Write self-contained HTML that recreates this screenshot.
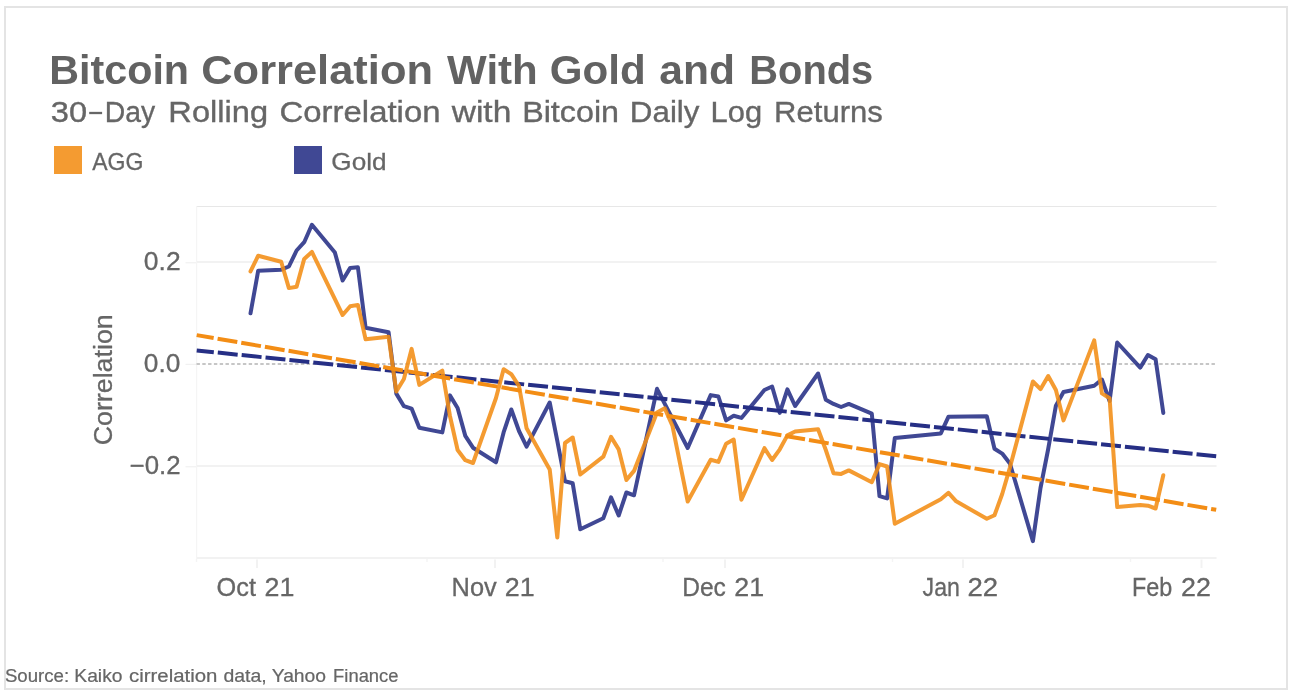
<!DOCTYPE html>
<html><head><meta charset="utf-8"><title>Bitcoin Correlation With Gold and Bonds</title>
<style>
html,body{margin:0;padding:0;background:#fff;}
body{width:1294px;height:696px;overflow:hidden;font-family:"Liberation Sans",sans-serif;}
svg{display:block;will-change:transform;}
text{font-family:"Liberation Sans",sans-serif;}
</style></head><body>
<svg width="1294" height="696" viewBox="0 0 1294 696">
<rect x="0" y="0" width="1294" height="696" fill="#ffffff"/>
<!-- outer frame -->
<rect x="5" y="7" width="1282" height="682" fill="none" stroke="#e4e4e4" stroke-width="2"/>

<!-- title -->
<text x="49.24" y="83.7" font-size="40.9" font-weight="bold" fill="#626262" stroke="#626262" stroke-width="0.0" textLength="139.86" lengthAdjust="spacingAndGlyphs">Bitcoin</text>
<text x="201.21" y="83.7" font-size="40.9" font-weight="bold" fill="#626262" stroke="#626262" stroke-width="0.0" textLength="231.79" lengthAdjust="spacingAndGlyphs">Correlation</text>
<text x="447.10" y="83.7" font-size="40.9" font-weight="bold" fill="#626262" stroke="#626262" stroke-width="0.0" textLength="90.68" lengthAdjust="spacingAndGlyphs">With</text>
<text x="549.82" y="83.7" font-size="40.9" font-weight="bold" fill="#626262" stroke="#626262" stroke-width="0.0" textLength="95.96" lengthAdjust="spacingAndGlyphs">Gold</text>
<text x="659.39" y="83.7" font-size="40.9" font-weight="bold" fill="#626262" stroke="#626262" stroke-width="0.0" textLength="75.72" lengthAdjust="spacingAndGlyphs">and</text>
<text x="749.31" y="83.7" font-size="40.9" font-weight="bold" fill="#626262" stroke="#626262" stroke-width="0.0" textLength="123.95" lengthAdjust="spacingAndGlyphs">Bonds</text>
<text x="50.84" y="121.7" font-size="30.2" font-weight="normal" fill="#666666" stroke="#666666" stroke-width="0.36" textLength="36.31" lengthAdjust="spacingAndGlyphs">30</text>
<text x="104.73" y="121.7" font-size="30.2" font-weight="normal" fill="#666666" stroke="#666666" stroke-width="0.36" textLength="50.32" lengthAdjust="spacingAndGlyphs">Day</text>
<text x="168.38" y="121.7" font-size="30.2" font-weight="normal" fill="#666666" stroke="#666666" stroke-width="0.36" textLength="99.72" lengthAdjust="spacingAndGlyphs">Rolling</text>
<text x="279.56" y="121.7" font-size="30.2" font-weight="normal" fill="#666666" stroke="#666666" stroke-width="0.36" textLength="160.99" lengthAdjust="spacingAndGlyphs">Correlation</text>
<text x="451.70" y="121.7" font-size="30.2" font-weight="normal" fill="#666666" stroke="#666666" stroke-width="0.36" textLength="59.58" lengthAdjust="spacingAndGlyphs">with</text>
<text x="522.17" y="121.7" font-size="30.2" font-weight="normal" fill="#666666" stroke="#666666" stroke-width="0.36" textLength="96.93" lengthAdjust="spacingAndGlyphs">Bitcoin</text>
<text x="629.89" y="121.7" font-size="30.2" font-weight="normal" fill="#666666" stroke="#666666" stroke-width="0.36" textLength="69.57" lengthAdjust="spacingAndGlyphs">Daily</text>
<text x="710.61" y="121.7" font-size="30.2" font-weight="normal" fill="#666666" stroke="#666666" stroke-width="0.36" textLength="51.56" lengthAdjust="spacingAndGlyphs">Log</text>
<text x="774.11" y="121.7" font-size="30.2" font-weight="normal" fill="#666666" stroke="#666666" stroke-width="0.36" textLength="108.63" lengthAdjust="spacingAndGlyphs">Returns</text>
<text x="92.20" y="169.7" font-size="24.5" font-weight="normal" fill="#666666" stroke="#666666" stroke-width="0.29" textLength="51.21" lengthAdjust="spacingAndGlyphs">AGG</text>
<text x="331.38" y="169.7" font-size="24.5" font-weight="normal" fill="#666666" stroke="#666666" stroke-width="0.29" textLength="55.22" lengthAdjust="spacingAndGlyphs">Gold</text>
<text x="143.84" y="270" font-size="25" font-weight="normal" fill="#666666" stroke="#666666" stroke-width="0.3" textLength="36.80" lengthAdjust="spacingAndGlyphs">0.2</text>
<text x="143.85" y="372" font-size="25" font-weight="normal" fill="#666666" stroke="#666666" stroke-width="0.3" textLength="36.52" lengthAdjust="spacingAndGlyphs">0.0</text>
<text x="129.68" y="474" font-size="25" font-weight="normal" fill="#666666" stroke="#666666" stroke-width="0.3" textLength="50.94" lengthAdjust="spacingAndGlyphs">−0.2</text>
<text x="216.60" y="596.3" font-size="25" font-weight="normal" fill="#666666" stroke="#666666" stroke-width="0.3" textLength="39.35" lengthAdjust="spacingAndGlyphs">Oct</text>
<text x="264.54" y="596.3" font-size="25" font-weight="normal" fill="#666666" stroke="#666666" stroke-width="0.3" textLength="29.84" lengthAdjust="spacingAndGlyphs">21</text>
<text x="451.59" y="596.3" font-size="25" font-weight="normal" fill="#666666" stroke="#666666" stroke-width="0.3" textLength="45.18" lengthAdjust="spacingAndGlyphs">Nov</text>
<text x="504.82" y="596.3" font-size="25" font-weight="normal" fill="#666666" stroke="#666666" stroke-width="0.3" textLength="29.87" lengthAdjust="spacingAndGlyphs">21</text>
<text x="682.27" y="596.3" font-size="25" font-weight="normal" fill="#666666" stroke="#666666" stroke-width="0.3" textLength="43.63" lengthAdjust="spacingAndGlyphs">Dec</text>
<text x="734.23" y="596.3" font-size="25" font-weight="normal" fill="#666666" stroke="#666666" stroke-width="0.3" textLength="29.84" lengthAdjust="spacingAndGlyphs">21</text>
<text x="922.57" y="596.3" font-size="25" font-weight="normal" fill="#666666" stroke="#666666" stroke-width="0.3" textLength="37.32" lengthAdjust="spacingAndGlyphs">Jan</text>
<text x="967.43" y="596.3" font-size="25" font-weight="normal" fill="#666666" stroke="#666666" stroke-width="0.3" textLength="30.64" lengthAdjust="spacingAndGlyphs">22</text>
<text x="1131.91" y="596.3" font-size="25" font-weight="normal" fill="#666666" stroke="#666666" stroke-width="0.3" textLength="40.25" lengthAdjust="spacingAndGlyphs">Feb</text>
<text x="1181.04" y="596.3" font-size="25" font-weight="normal" fill="#666666" stroke="#666666" stroke-width="0.3" textLength="29.84" lengthAdjust="spacingAndGlyphs">22</text>
<text x="4.92" y="681.9" font-size="18.3" font-weight="normal" fill="#666666" stroke="#666666" stroke-width="0.22" textLength="64.20" lengthAdjust="spacingAndGlyphs">Source:</text>
<text x="74.32" y="681.9" font-size="18.3" font-weight="normal" fill="#666666" stroke="#666666" stroke-width="0.22" textLength="48.17" lengthAdjust="spacingAndGlyphs">Kaiko</text>
<text x="129.03" y="681.9" font-size="18.3" font-weight="normal" fill="#666666" stroke="#666666" stroke-width="0.22" textLength="88.45" lengthAdjust="spacingAndGlyphs">cirrelation</text>
<text x="223.50" y="681.9" font-size="18.3" font-weight="normal" fill="#666666" stroke="#666666" stroke-width="0.22" textLength="43.25" lengthAdjust="spacingAndGlyphs">data,</text>
<text x="271.69" y="681.9" font-size="18.3" font-weight="normal" fill="#666666" stroke="#666666" stroke-width="0.22" textLength="54.38" lengthAdjust="spacingAndGlyphs">Yahoo</text>
<text x="333.14" y="681.9" font-size="18.3" font-weight="normal" fill="#666666" stroke="#666666" stroke-width="0.22" textLength="65.34" lengthAdjust="spacingAndGlyphs">Finance</text>
<!-- dash rect --><rect x="89.2" y="111.85" width="12.9" height="2.3" fill="#666666"/>
<!-- legend -->
<rect x="54" y="146" width="28" height="28" fill="#f38d15" fill-opacity="0.88"/>
<rect x="294" y="146" width="28" height="28" fill="#262f85" fill-opacity="0.88"/>

<!-- grid -->
<g fill="none">
<line x1="196.5" y1="206.5" x2="1216.5" y2="206.5" stroke="#e7e7e7" stroke-width="1.2"/>
<line x1="196.5" y1="262" x2="1216.5" y2="262" stroke="#f2f2f2" stroke-width="2"/>
<line x1="196.5" y1="466" x2="1216.5" y2="466" stroke="#f2f2f2" stroke-width="2"/>
<line x1="196.5" y1="558" x2="1216.5" y2="558" stroke="#f2f2f2" stroke-width="2"/>
<line x1="196.6" y1="206" x2="196.6" y2="559" stroke="#f5f5f5" stroke-width="1.2"/>
<g stroke="#f1f1f1" stroke-width="1.2">
<line x1="185.5" y1="262.8" x2="196" y2="262.8"/>
<line x1="185.5" y1="364.4" x2="196" y2="364.4"/>
<line x1="185.5" y1="466.8" x2="196" y2="466.8"/>
</g>
</g>
<!-- x ticks -->
<g stroke="#f2f2f2" stroke-width="2" fill="none">
<line x1="257" y1="559.5" x2="257" y2="568"/>
<line x1="495" y1="559.5" x2="495" y2="568"/>
<line x1="725" y1="559.5" x2="725" y2="568"/>
<line x1="963" y1="559.5" x2="963" y2="568"/>
<line x1="1201.5" y1="559.5" x2="1201.5" y2="568"/>
</g>
<g stroke="#f4f4f4" stroke-width="1.5" fill="none">
<line x1="196.5" y1="559" x2="196.5" y2="562"/>
<line x1="427" y1="559" x2="427" y2="562"/>
<line x1="663" y1="559" x2="663" y2="562"/>
<line x1="892.5" y1="559" x2="892.5" y2="562"/>
<line x1="1130.5" y1="559" x2="1130.5" y2="562"/>
</g>
<!-- zero line -->
<line x1="196.5" y1="363.9" x2="1216.5" y2="363.9" stroke="#c6c6c6" stroke-width="2" stroke-dasharray="3.4,2.4"/>

<!-- y labels -->
<g font-size="25" fill="#666666">
<text transform="translate(111.8,445.3) rotate(-90)" stroke="#666666" stroke-width="0.3" textLength="131" lengthAdjust="spacingAndGlyphs">Correlation</text>
</g>
<!-- series -->
<g fill="none">
<polyline stroke="#262f85" stroke-opacity="0.88" stroke-width="4.0" stroke-linejoin="round" stroke-linecap="round" points="250.5,313.3 258.2,270.7 281.2,269.7 288.9,266.5 296.6,250.5 304.2,242.2 311.9,224.8 334.9,252.6 342.6,280.5 350.2,267.9 357.9,267.2 365.6,327.8 388.6,332.2 396.3,393.6 403.9,406.2 411.6,408.6 419.3,427.7 442.3,432.4 449.9,395.4 457.6,408.0 465.3,435.9 473.0,447.7 496.0,462.3 503.6,432.4 511.3,409.5 519.0,431.0 526.6,446.6 549.7,402.5 557.3,440.8 565.0,481.2 572.7,483.3 580.3,529.3 603.3,518.2 611.0,497.4 618.7,515.5 626.4,492.5 634.0,495.3 657.0,388.8 687.7,448.0 710.7,395.1 718.4,396.5 726.1,420.4 733.7,415.8 741.4,417.9 764.4,390.0 772.1,386.5 779.8,412.9 787.4,389.3 795.1,406.0 818.1,373.5 825.8,399.7 833.5,403.9 841.1,407.0 848.8,403.9 871.8,413.6 879.5,496.2 887.1,498.4 894.8,438.0 940.8,433.4 948.5,416.7 986.8,416.3 994.5,448.8 1002.2,453.6 1009.9,463.5 1032.9,541.1 1040.5,488.0 1048.2,449.0 1055.9,405.7 1063.5,392.0 1094.2,385.7 1101.9,379.5 1109.6,401.0 1117.2,342.5 1140.2,367.6 1147.9,355.0 1155.6,359.3 1163.3,412.9"/>
<line x1="196.7" y1="350.4" x2="1216.2" y2="456.2" stroke="#262f85" stroke-width="4" stroke-dasharray="20,4" stroke-dashoffset="2.8"/>
<polyline stroke="#f38d15" stroke-opacity="0.88" stroke-width="4.0" stroke-linejoin="round" stroke-linecap="round" points="250.5,271.4 258.2,255.7 281.2,261.7 288.9,288.1 296.6,286.7 304.2,258.9 311.9,251.9 334.9,299.2 342.6,315.0 350.2,306.3 357.9,304.9 365.6,339.3 388.6,336.7 396.3,391.5 403.9,379.0 411.6,348.9 419.3,384.9 442.3,370.6 449.9,415.7 457.6,450.0 465.3,460.2 473.0,463.0 496.0,398.0 503.6,369.2 511.3,374.2 519.0,386.0 526.6,428.3 549.7,469.4 557.3,537.6 565.0,443.0 572.7,437.5 580.3,474.5 603.3,456.7 611.0,436.9 618.7,449.4 626.4,480.0 634.0,470.9 657.0,412.5 664.7,408.3 672.4,425.7 687.7,501.5 710.7,459.8 718.4,461.9 726.1,443.8 733.7,439.6 741.4,499.7 764.4,448.2 772.1,460.0 779.8,449.3 787.4,435.4 795.1,431.5 818.1,429.3 825.8,450.0 833.5,473.2 841.1,473.9 848.8,470.4 871.8,482.2 879.5,464.1 887.1,466.5 894.8,523.8 940.8,499.3 948.5,492.8 956.2,501.3 986.8,518.8 994.5,515.3 1002.2,494.0 1009.9,467.6 1032.9,381.5 1040.5,389.2 1048.2,376.0 1055.9,390.0 1063.5,420.4 1094.2,340.4 1101.9,393.4 1109.6,398.3 1117.2,507.1 1140.2,505.0 1147.9,505.7 1155.6,508.5 1163.3,475.2"/>
<line x1="196.7" y1="335.1" x2="1216.2" y2="509.8" stroke="#f38d15" stroke-width="4" stroke-dasharray="20,4" stroke-dashoffset="2.8"/>
</g>
</svg>
</body></html>
